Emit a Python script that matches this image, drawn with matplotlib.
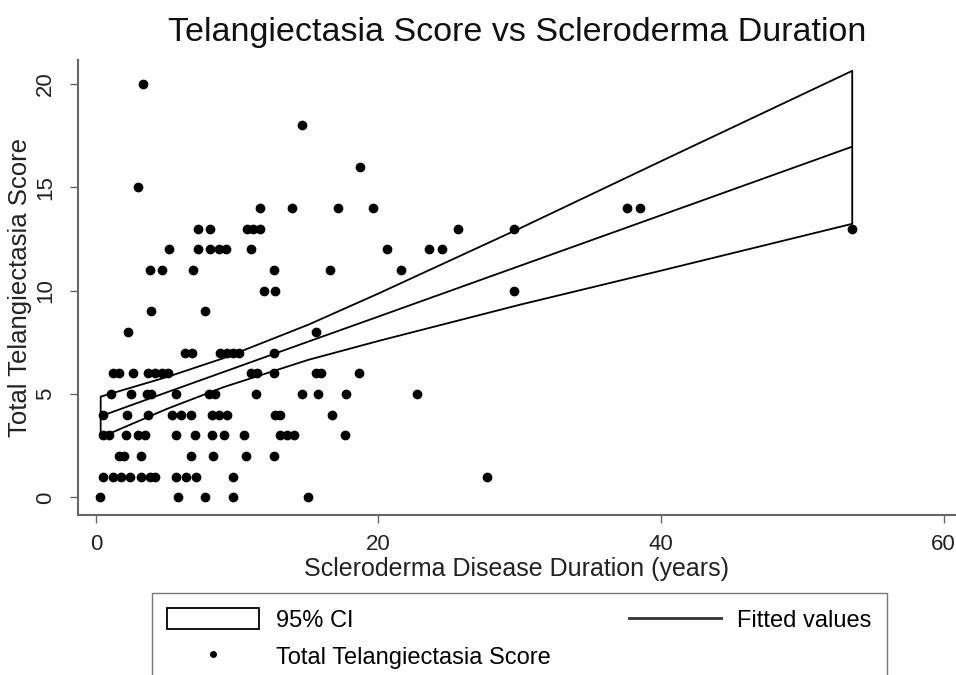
import matplotlib
matplotlib.use("Agg")
import matplotlib.pyplot as plt
from matplotlib.lines import Line2D
from matplotlib.patches import Patch

plt.rcParams["font.family"] = ["Liberation Sans", "DejaVu Sans"]

# scatter: disease duration (years) and total telangiectasia score
duration = [
    0.3, 5.8, 7.7, 9.7, 15.0,
    0.5, 1.2, 1.8, 2.4, 3.2, 3.8, 4.2, 5.7, 6.4, 7.1, 9.7, 27.7,
    1.6, 2.0, 3.2, 6.7, 8.3, 10.6, 12.6,
    0.5, 0.9, 2.1, 3.0, 3.5, 5.7, 7.0, 8.2, 9.1, 10.5, 13.0, 13.5, 14.0, 17.6,
    0.5, 2.2, 3.7, 5.4, 6.0, 6.7, 8.2, 8.7, 9.3, 12.7, 13.0, 16.7,
    1.1, 2.5, 3.6, 3.9, 5.7, 8.0, 8.4, 11.3, 14.6, 15.7, 17.7, 22.7,
    1.2, 1.6, 2.6, 3.7, 4.2, 4.7, 5.1, 11.0, 11.4, 12.6, 15.6, 15.9, 18.6,
    6.3, 6.8, 8.8, 9.3, 9.7, 10.1, 12.6,
    2.3, 15.6,
    3.9, 7.7,
    11.9, 12.7, 29.6,
    3.8, 4.7, 6.9, 12.6, 16.6, 21.6,
    5.2, 7.2, 8.1, 8.7, 9.2, 11.0, 20.6, 23.6, 24.5,
    7.2, 8.1, 10.7, 11.1, 11.6, 25.6, 29.6, 53.5,
    11.6, 13.9, 17.1, 19.6, 37.6, 38.5,
    3.0, 18.7, 14.6, 3.3,
]
score = (
    [0] * 5 + [1] * 12 + [2] * 7 + [3] * 14 + [4] * 12 + [5] * 12
    + [6] * 13 + [7] * 7 + [8] * 2 + [9] * 2 + [10] * 3 + [11] * 6
    + [12] * 9 + [13] * 8 + [14] * 6 + [15, 16, 18, 20]
)

# fitted line and 95% CI bounds
fit_x = [0.3, 5, 9, 15, 20, 30, 40, 53.5]
fit_y = [3.92, 5.08, 6.06, 7.53, 8.75, 11.2, 13.65, 16.96]
ci_upper = [4.9, 5.85, 6.76, 8.38, 9.9, 13.05, 16.3, 20.66]
ci_lower = [2.93, 4.31, 5.36, 6.68, 7.6, 9.35, 11.0, 13.26]

W, H = 956, 675
fig = plt.figure(figsize=(W / 100, H / 100), dpi=100)
ax = fig.add_axes([78 / W, 1 - 515 / H, (956 - 78) / W, (515 - 60) / H])

ax.fill_between(fit_x, ci_lower, ci_upper, facecolor="white",
                edgecolor="black", linewidth=1.3, zorder=1)
ax.plot(duration, score, "o", color="black", markersize=6, zorder=2)
ax.plot(fit_x, fit_y, color="black", linewidth=1.3, zorder=3)

ax.set_xlim(-1.27, 60.88)
ax.set_ylim(-0.85, 21.16)
ax.set_xticks([0, 20, 40, 60])
ax.set_yticks([0, 5, 10, 15, 20])
ax.set_yticklabels(["0", "5", "10", "15", "20"], rotation=90, va="center")
ax.tick_params(colors="#666666", labelcolor="#222222", labelsize=16,
               length=6, width=1)
ax.tick_params(axis="y", pad=10)
ax.tick_params(axis="x", pad=8)
for side in ("top", "right"):
    ax.spines[side].set_visible(False)
for side in ("left", "bottom"):
    ax.spines[side].set_color("#666666")
    ax.spines[side].set_linewidth(1.5)

ax.set_title("Telangiectasia Score vs Scleroderma Duration", fontsize=24.5,
             color="#111111", pad=14)
ax.set_xlabel("Scleroderma Disease Duration (years)", fontsize=18,
              color="#222222", labelpad=1)
ax.set_ylabel("Total Telangiectasia Score", fontsize=18.5, color="#222222",
              labelpad=2)

handles = [
    Patch(facecolor="white", edgecolor="black", linewidth=1.3),
    Line2D([], [], marker="o", linestyle="none", color="black", markersize=4),
    Line2D([], [], color="#333333", linewidth=2),
]
labels = ["95% CI", "Total Telangiectasia Score", "Fitted values"]
top = 1 - 593 / H
fig.legend(handles, labels, ncol=2, loc="upper left",
           bbox_to_anchor=(152 / W, top - 0.2, (887 - 152) / W, 0.2),
           mode="expand", fontsize=17, frameon=True, fancybox=False,
           edgecolor="#555555", handlelength=3.9, handleheight=1.0,
           labelspacing=0.55, borderpad=0.65, borderaxespad=0,
           handletextpad=0.7)

fig.savefig("out.png", dpi=100, facecolor="white")
